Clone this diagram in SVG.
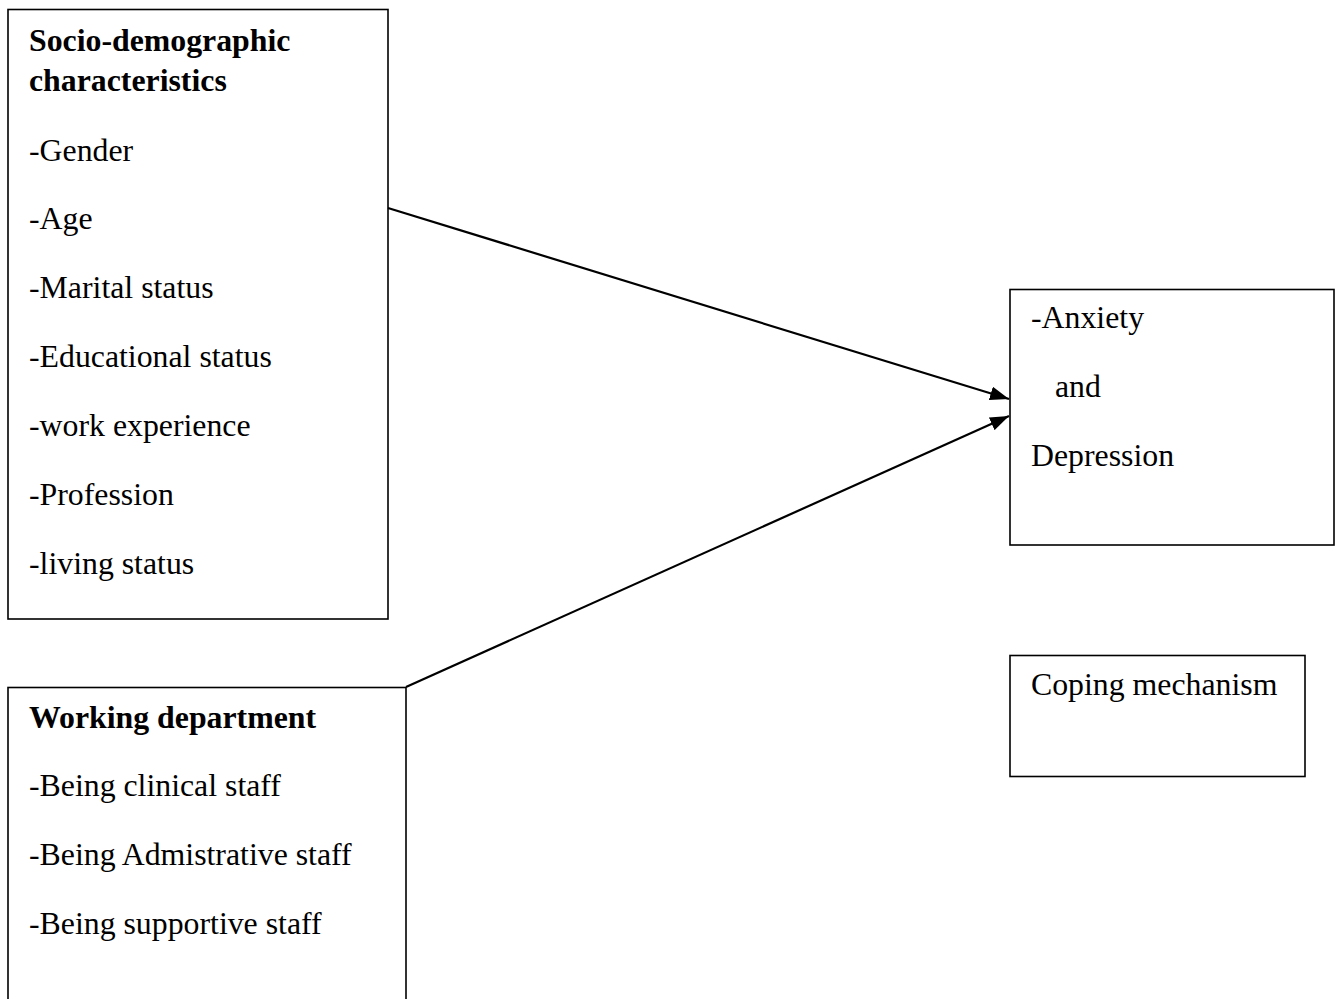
<svg xmlns="http://www.w3.org/2000/svg" width="1344" height="999" viewBox="0 0 1344 999">
<style>
.box{fill:#fff;stroke:#000;stroke-width:1.6}
.t{font-family:"Liberation Serif","Times New Roman",serif;font-size:31.8px;fill:#000}
.b{font-weight:bold}
.conn{stroke:#000;stroke-width:2.2;fill:none}
</style>
<defs>
<marker id="ah" markerUnits="userSpaceOnUse" markerWidth="20" markerHeight="14" refX="19" refY="7" orient="auto">
<path d="M0,0 L19,7 L0,14 Z" fill="#000"/>
</marker>
</defs>
<rect width="1344" height="999" fill="#fff"/>
<g id="socio">
<rect class="box" x="8" y="9.5" width="380" height="609.5"/>
<text class="t b" x="29" y="51">Socio-demographic</text>
<text class="t b" x="29" y="91">characteristics</text>
<text class="t" x="29" y="161">-Gender</text>
<text class="t" x="29" y="229">-Age</text>
<text class="t" x="29" y="298">-Marital status</text>
<text class="t" x="29" y="367">-Educational status</text>
<text class="t" x="29" y="436">-work experience</text>
<text class="t" x="29" y="505">-Profession</text>
<text class="t" x="29" y="574">-living status</text>
</g>
<g id="working">
<rect class="box" x="8" y="687.5" width="398" height="330"/>
<text class="t b" x="29" y="728">Working department</text>
<text class="t" x="29" y="796">-Being clinical staff</text>
<text class="t" x="29" y="865">-Being Admistrative staff</text>
<text class="t" x="29" y="934">-Being supportive staff</text>
</g>
<g id="outcome">
<rect class="box" x="1010" y="289.5" width="324" height="255.5"/>
<text class="t" x="1031" y="328">-Anxiety</text>
<text class="t" x="1055" y="397">and</text>
<text class="t" x="1031" y="466">Depression</text>
</g>
<g id="coping">
<rect class="box" x="1010" y="655.5" width="295" height="121"/>
<text class="t" x="1031" y="695">Coping mechanism</text>
</g>
<g id="connectors">
<line class="conn" x1="388" y1="208" x2="1009" y2="399" marker-end="url(#ah)"/>
<line class="conn" x1="406" y1="687" x2="1009" y2="416" marker-end="url(#ah)"/>
</g>
</svg>
